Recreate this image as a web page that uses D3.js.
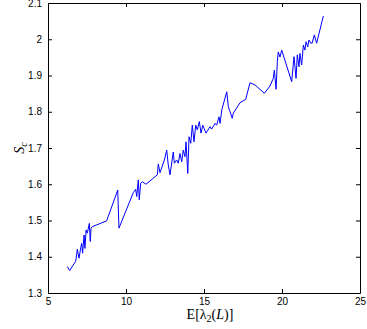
<!DOCTYPE html>
<html>
<head>
<meta charset="utf-8">
<script src="https://cdn.jsdelivr.net/npm/d3@7"></script>
<style>
  body { margin: 0; background: #fff; }
  .axis text { font-family: "Liberation Sans", Helvetica, Arial, sans-serif; font-size: 10px; fill: #000; }
  .axis path, .axis line { stroke: #000; }
  .lbl { font-family: "Liberation Serif", "DejaVu Serif", serif; fill: #000; }
</style>
</head>
<body>
<div id="chart"></div>
<script>
// Expected algebraic connectivity vs S_c
const lambda2 = [6.24, 6.39, 6.78, 6.88, 6.99, 7.10, 7.16, 7.22, 7.31, 7.37, 7.44, 7.52, 7.65, 7.71, 7.76, 7.84,
  8.76, 9.47, 9.55, 10.15, 10.47, 10.62, 10.69, 10.79, 10.85, 10.94, 11.05, 11.28, 12.01, 12.07, 12.18, 12.46,
  12.61, 12.71, 12.82, 13.03, 13.10, 13.25, 13.35, 13.46, 13.57, 13.67, 13.78, 13.85, 13.96, 14.04, 14.15, 14.25,
  14.36, 14.47, 14.57, 14.70, 14.81, 14.92, 15.13, 15.39, 15.49, 15.71, 15.81, 15.96, 16.03, 16.14, 16.24, 16.46,
  16.56, 16.81, 16.88, 17.31, 17.67, 17.95, 18.27, 18.87, 19.23, 19.44, 19.51, 19.62, 19.70, 19.76, 19.87, 19.98,
  20.62, 20.77, 20.90, 20.98, 21.09, 21.15, 21.26, 21.37, 21.47, 21.54, 21.65, 21.73, 21.84, 21.94, 22.07, 22.22, 22.65];
const sc = [1.373, 1.362, 1.388, 1.421, 1.396, 1.425, 1.437, 1.410, 1.460, 1.423, 1.474, 1.465, 1.492, 1.442, 1.479, 1.483,
  1.499, 1.584, 1.479, 1.543, 1.577, 1.586, 1.566, 1.612, 1.557, 1.603, 1.607, 1.600, 1.626, 1.656, 1.632, 1.667,
  1.694, 1.653, 1.626, 1.689, 1.658, 1.667, 1.658, 1.685, 1.662, 1.694, 1.676, 1.717, 1.630, 1.731, 1.713, 1.763,
  1.717, 1.763, 1.750, 1.773, 1.741, 1.763, 1.741, 1.759, 1.752, 1.768, 1.763, 1.786, 1.768, 1.805, 1.821, 1.855,
  1.814, 1.782, 1.796, 1.825, 1.834, 1.880, 1.874, 1.851, 1.871, 1.892, 1.915, 1.862, 1.938, 1.965, 1.951, 1.970,
  1.883, 1.952, 1.892, 1.957, 1.924, 1.961, 1.929, 1.984, 1.970, 1.993, 1.979, 1.998, 1.989, 1.990, 2.012, 1.989, 2.064];
const xTicks = [5, 10, 15, 20, 25];
const yTicks = [1.3, 1.4, 1.5, 1.6, 1.7, 1.8, 1.9, 2.0, 2.1];

const width = 367, height = 329;
const margin = { top: 3, right: 7, bottom: 36, left: 48 };
const w = width - margin.left - margin.right;
const h = height - margin.top - margin.bottom;

const svg = d3.select("#chart").append("svg")
  .attr("width", width)
  .attr("height", height);

const g = svg.append("g")
  .attr("transform", `translate(${margin.left},${margin.top})`);

const x = d3.scaleLinear().domain([5, 25]).range([0, w]);
const y = d3.scaleLinear().domain([1.3, 2.1]).range([h, 0]);
const fmt = d => String(+d.toFixed(1));

// Axes, MATLAB style: ticks pointing inwards, box all round
g.append("g").attr("class", "axis")
  .attr("transform", `translate(0,${h})`)
  .call(d3.axisBottom(x).tickValues(xTicks).tickFormat(fmt).tickSizeInner(-4).tickSizeOuter(0).tickPadding(5));
g.append("g").attr("class", "axis")
  .call(d3.axisTop(x).tickValues(xTicks).tickFormat("").tickSizeInner(-4).tickSizeOuter(0));
g.append("g").attr("class", "axis")
  .call(d3.axisLeft(y).tickValues(yTicks).tickFormat(fmt).tickSizeInner(-4).tickSizeOuter(0).tickPadding(6));
g.append("g").attr("class", "axis")
  .attr("transform", `translate(${w},0)`)
  .call(d3.axisRight(y).tickValues(yTicks).tickFormat("").tickSizeInner(-4).tickSizeOuter(0));

// Data line
const pts = lambda2.map((v, i) => [v, sc[i]]);
const line = d3.line().x(d => x(d[0])).y(d => y(d[1]));
g.append("path")
  .datum(pts)
  .attr("d", line)
  .attr("fill", "none")
  .attr("stroke", "#0000ff")
  .attr("stroke-width", 1);

// Axis labels
const xl = svg.append("text").attr("class", "lbl")
  .attr("x", 210).attr("y", 319)
  .attr("text-anchor", "middle")
  .style("font-size", "14px");
xl.append("tspan").text("E[λ");
xl.append("tspan").attr("font-size", "10px").attr("dy", 3).text("2");
xl.append("tspan").attr("dy", -3).text("(");
xl.append("tspan").attr("font-style", "italic").text("L");
xl.append("tspan").text(")]");

const yl = svg.append("text").attr("class", "lbl")
  .attr("transform", "translate(24,148) rotate(-90)")
  .attr("text-anchor", "middle")
  .style("font-size", "14px");
yl.append("tspan").attr("font-style", "italic").text("S");
yl.append("tspan").attr("font-style", "italic").attr("font-size", "10px").attr("dy", 3).text("c");
</script>
</body>
</html>
